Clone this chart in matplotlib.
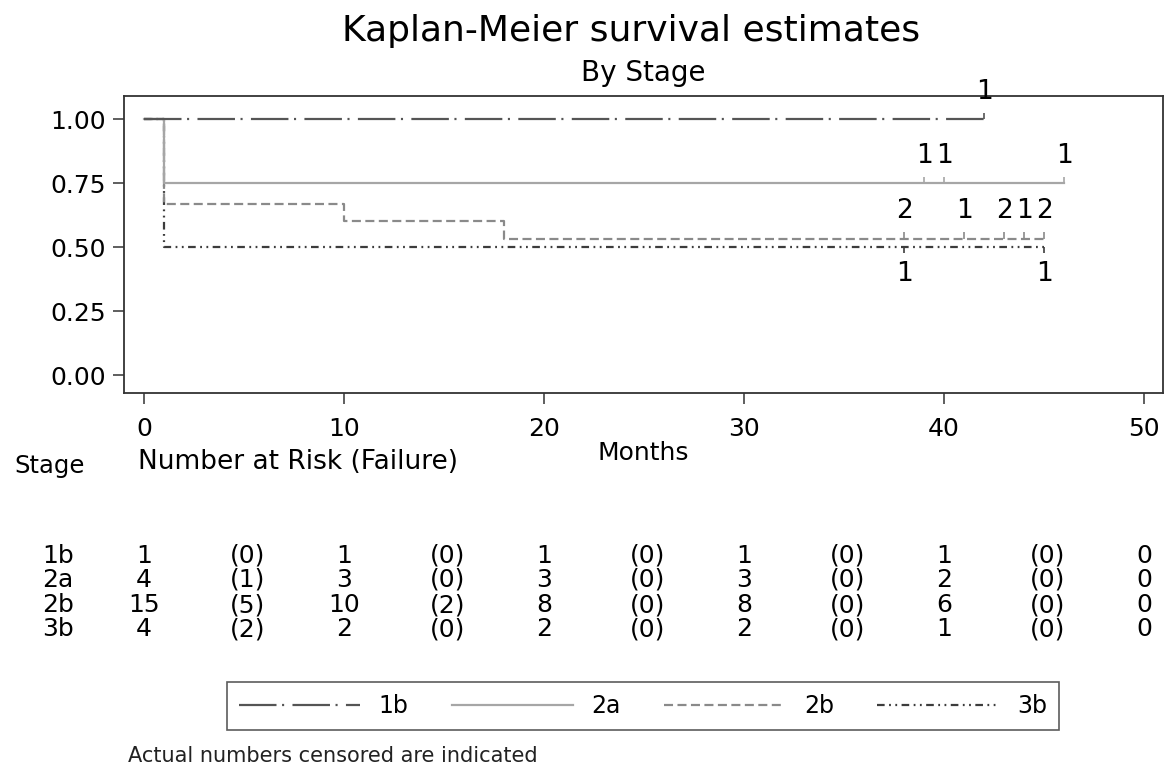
import matplotlib
matplotlib.use("Agg")
import matplotlib.pyplot as plt
import matplotlib.transforms as mtransforms
from matplotlib.lines import Line2D

plt.rcParams['font.family'] = ['DejaVu Sans']
plt.rcParams['lines.scale_dashes'] = False

# ---------------- data ----------------
stages = ['1b', '2a', '2b', '3b']

t_1b = [0, 42]
s_1b = [1.0, 1.0]
t_2a = [0, 1, 46]
s_2a = [1.0, 0.75, 0.75]
t_2b = [0, 1, 10, 18, 45]
s_2b = [1.0, 0.6667, 0.6, 0.5333, 0.5333]
t_3b = [0, 1, 45]
s_3b = [1.0, 0.5, 0.5]

cens_t_1b = [42]
cens_n_1b = [1]
cens_t_2a = [39, 40, 46]
cens_n_2a = [1, 1, 1]
cens_t_2b = [38, 41, 43, 44, 45]
cens_n_2b = [2, 1, 2, 1, 2]
cens_t_3b = [38, 45]
cens_n_3b = [1, 1]

risk_times = [0, 10, 20, 30, 40, 50]
fail_times = [5, 15, 25, 35, 45]
risk_1b = [1, 1, 1, 1, 1, 0]
risk_2a = [4, 3, 3, 3, 2, 0]
risk_2b = [15, 10, 8, 8, 6, 0]
risk_3b = [4, 2, 2, 2, 1, 0]
fail_1b = [0, 0, 0, 0, 0]
fail_2a = [1, 0, 0, 0, 0]
fail_2b = [5, 2, 0, 0, 0]
fail_3b = [2, 0, 0, 0, 0]

x_ticks = [0, 10, 20, 30, 40, 50]
y_ticks = [0.0, 0.25, 0.5, 0.75, 1.0]

# ---------------- styles ----------------
W, H = 1165, 769
fig = plt.figure(figsize=(W / 100, H / 100), dpi=100)
ax = fig.add_axes([124 / W, 1 - 393 / H, (1163 - 124) / W, (393 - 96) / H])

styles = {
    '1b': dict(color='#555555', dashes=(27, 4, 1.5, 6)),
    '2a': dict(color='#a6a6a6', dashes=None),
    '2b': dict(color='#8a8a8a', dashes=(6.5, 3.2)),
    '3b': dict(color='#3c3c3c', dashes=(5.5, 3.2, 1.3, 3.2, 1.3, 3.2)),
}
lw = 1.6

curves = {'1b': (t_1b, s_1b), '2a': (t_2a, s_2a), '2b': (t_2b, s_2b), '3b': (t_3b, s_3b)}
cens = {'1b': (cens_t_1b, cens_n_1b), '2a': (cens_t_2a, cens_n_2a),
        '2b': (cens_t_2b, cens_n_2b), '3b': (cens_t_3b, cens_n_3b)}
cens_dir = {'1b': 1, '2a': 1, '2b': 1, '3b': -1}

for st in ['3b', '2b', '2a', '1b']:
    t, s = curves[st]
    sty = styles[st]
    line, = ax.step(t, s, where='post', color=sty['color'], lw=lw)
    if sty['dashes'] is not None:
        line.set_dashes(sty['dashes'])
    ct, cn = cens[st]
    for x, n in zip(ct, cn):
        yv = s[0]
        for ti, si in zip(t, s):
            if ti <= x:
                yv = si
        d = cens_dir[st]
        ax.plot([x, x], [yv, yv + d * 0.024], color=sty['color'], lw=1.2, solid_capstyle='butt')
        ax.annotate(str(n), (x, yv), xytext=(0.5, d * 19.5), textcoords='offset points',
                    ha='center', va='center', fontsize=19)

ax.set_xlim(-1, 50.95)
ax.set_ylim(-0.07, 1.09)
ax.set_xticks(x_ticks)
ax.set_xticklabels([str(v) for v in x_ticks])
ax.set_yticks(y_ticks)
ax.set_yticklabels(['%.2f' % v for v in y_ticks])
ax.tick_params(axis='both', direction='out', length=8, width=1.1, color='#333333',
               labelsize=18, pad=5)
ax.tick_params(axis='x', pad=9)
for sp in ax.spines.values():
    sp.set_color('#333333')
    sp.set_linewidth(1.3)
ax.set_xlabel('Months', fontsize=18, labelpad=0)

# titles
fig.text(631 / W, 1 - 31 / H, 'Kaplan-Meier survival estimates', ha='center', va='center', fontsize=26)
fig.text(643 / W, 1 - 73 / H, 'By Stage', ha='center', va='center', fontsize=20)

# risk table
fig.text(14 / W, 1 - 466 / H, 'Stage', ha='left', va='center', fontsize=17.5)
fig.text(138 / W, 1 - 462 / H, 'Number at Risk (Failure)', ha='left', va='center', fontsize=19)

trans = mtransforms.blended_transform_factory(ax.transData, fig.transFigure)
risk = {'1b': risk_1b, '2a': risk_2a, '2b': risk_2b, '3b': risk_3b}
fail = {'1b': fail_1b, '2a': fail_2a, '2b': fail_2b, '3b': fail_3b}
row_y = [556, 580, 605, 629]
for st, yp in zip(stages, row_y):
    yf = 1 - yp / H
    fig.text(58 / W, yf, st, ha='center', va='center', fontsize=18)
    for tt, v in zip(risk_times, risk[st]):
        fig.text(tt, yf, str(v), transform=trans, ha='center', va='center', fontsize=18)
    for tt, v in zip(fail_times, fail[st]):
        fig.text(tt + 0.2, yf, '(%d)' % v, transform=trans, ha='center', va='center', fontsize=18)

# legend
handles = []
for st in stages:
    sty = styles[st]
    h = Line2D([0], [0], color=sty['color'], lw=lw)
    if sty['dashes'] is not None:
        h.set_dashes(sty['dashes'])
    handles.append(h)
leg = fig.legend(handles, stages, loc='center', bbox_to_anchor=(643 / W, 1 - 706 / H),
                 ncol=4, fontsize=17, handlelength=5.1, handletextpad=0.8,
                 columnspacing=1.85, fancybox=False, frameon=True, borderpad=0.5)
leg.get_frame().set_edgecolor('#333333')
leg.get_frame().set_linewidth(1.2)

fig.text(128 / W, 1 - 756 / H, 'Actual numbers censored are indicated', ha='left', va='center',
         fontsize=15, color='#222222')

fig.savefig('out.png', dpi=100)
